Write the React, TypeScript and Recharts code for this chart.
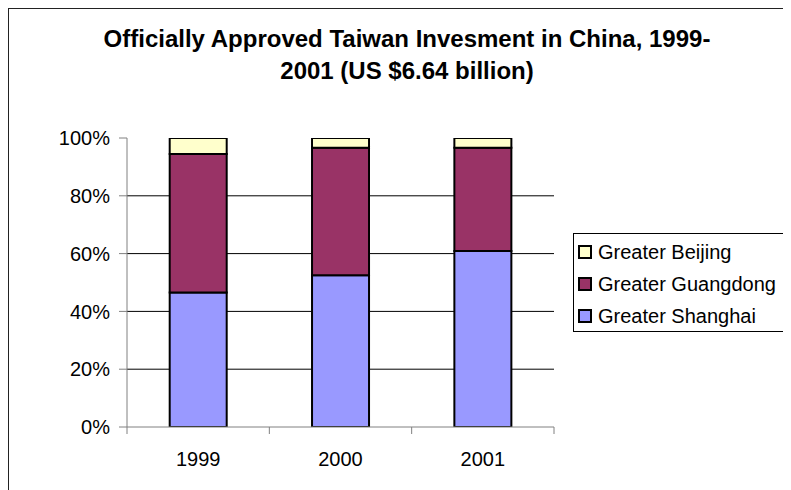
import React from 'react';
import { BarChart, Bar, XAxis, YAxis, CartesianGrid, Legend } from 'recharts';

const years = ['1999', '2000', '2001'];
const shanghai = [46.5, 52.5, 60.9];
const guangdong = [48.0, 44.1, 35.7];
const beijing = [5.5, 3.4, 3.4];
const yTicks = [0, 20, 40, 60, 80, 100];
const gridValues = [20, 40, 60, 80];
const legendOrder = ['Greater Beijing', 'Greater Guangdong', 'Greater Shanghai'];

const data = years.map((year, i) => ({
    year,
    shanghai: shanghai[i],
    guangdong: guangdong[i],
    beijing: beijing[i],
}));

const FONT = 'Arial, "Liberation Sans", sans-serif';

const XTick = (props: any) => {
    const { x, y, payload, index } = props;
    const off = payload && payload.offset != null ? payload.offset : 0;
    return (
        <g>
            <line x1={x - off} y1={y} x2={x - off} y2={y + 7} stroke="#808080" />
            {index === years.length - 1 && (
                <line x1={x + off} y1={y} x2={x + off} y2={y + 7} stroke="#808080" />
            )}
            <text x={x} y={y + 39} textAnchor="middle" fontSize={20} fill="#000" fontFamily={FONT}>
                {payload.value}
            </text>
        </g>
    );
};

const LegendBox = (props: any) => {
    const items = [...(props.payload || [])].sort(
        (a: any, b: any) => legendOrder.indexOf(a.value) - legendOrder.indexOf(b.value)
    );
    return (
        <div
            style={{
                boxSizing: 'border-box',
                height: 99,
                borderLeft: '1px solid #000',
                borderTop: '1px solid #000',
                borderBottom: '1px solid #000',
                paddingTop: 2,
                fontFamily: FONT,
                fontSize: 20,
                color: '#000',
            }}
        >
            {items.map((item: any) => (
                <div key={item.value} style={{ display: 'flex', alignItems: 'center', height: 32 }}>
                    <span
                        style={{
                            boxSizing: 'border-box',
                            display: 'inline-block',
                            width: 14,
                            height: 14,
                            marginLeft: 4,
                            marginRight: 6,
                            background: item.color,
                            border: '2px solid #000',
                        }}
                    />
                    <span style={{ whiteSpace: 'nowrap' }}>{item.value}</span>
                </div>
            ))}
        </div>
    );
};

const App: React.FC = () => {
    return (
        <div style={{ position: 'relative', width: 783, height: 482, fontFamily: FONT }}>
            <div
                style={{
                    position: 'absolute',
                    left: 0,
                    top: 0,
                    width: 783,
                    height: 482,
                    boxSizing: 'border-box',
                    borderLeft: '1px solid #222',
                    borderTop: '1px solid #222',
                }}
            />
            <div
                style={{
                    position: 'absolute',
                    left: 15,
                    top: 0,
                    width: 768,
                    textAlign: 'center',
                    fontWeight: 'bold',
                    fontSize: 24,
                    lineHeight: '32px',
                    paddingTop: 15,
                    zIndex: 2,
                }}
            >
                <div>Officially Approved Taiwan Invesment in China, 1999-</div>
                <div>2001 (US $6.64 billion)</div>
            </div>
            <div style={{ position: 'absolute', left: 0, top: 0 }}>
                <BarChart
                    width={783}
                    height={482}
                    data={data}
                    margin={{ top: 130, right: 19, left: 0, bottom: 23 }}
                    barCategoryGap="30%"
                >
                    <CartesianGrid vertical={false} stroke="#000" horizontalValues={gridValues} />
                    <XAxis
                        dataKey="year"
                        height={40}
                        stroke="#808080"
                        tickLine={false}
                        tickSize={0}
                        tickMargin={0}
                        tick={<XTick />}
                        interval={0}
                    />
                    <YAxis
                        width={119}
                        domain={[0, 100]}
                        ticks={yTicks}
                        tickFormatter={(v) => `${v}%`}
                        stroke="#808080"
                        tickSize={8}
                        tickMargin={9}
                        tick={{ fill: '#000', fontSize: 20, fontFamily: FONT }}
                        allowDataOverflow
                    />
                    <Legend
                        layout="horizontal"
                        verticalAlign="middle"
                        align="right"
                        content={<LegendBox />}
                        wrapperStyle={{ position: 'absolute', left: 565, top: 225, width: 218, height: 99 }}
                    />
                    <Bar dataKey="shanghai" name="Greater Shanghai" stackId="a" fill="#9999FF" stroke="#000" strokeWidth={2} isAnimationActive={false} />
                    <Bar dataKey="guangdong" name="Greater Guangdong" stackId="a" fill="#993366" stroke="#000" strokeWidth={2} isAnimationActive={false} />
                    <Bar dataKey="beijing" name="Greater Beijing" stackId="a" fill="#FFFFCC" stroke="#000" strokeWidth={2} isAnimationActive={false} />
                </BarChart>
            </div>
        </div>
    );
};

export default App;
